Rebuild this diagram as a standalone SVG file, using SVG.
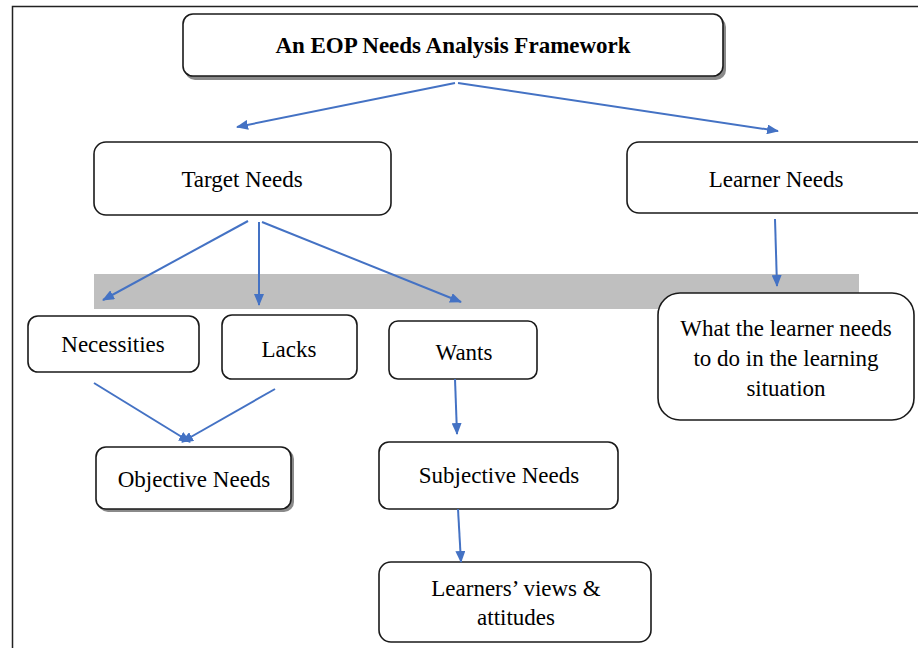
<svg xmlns="http://www.w3.org/2000/svg" width="918" height="648" viewBox="0 0 918 648">
<defs>
<marker id="ah" markerUnits="userSpaceOnUse" markerWidth="12" markerHeight="10" refX="11" refY="5" orient="auto">
<path d="M0,0 L12,5 L0,10 Z" fill="#4472c4"/>
</marker>
</defs>
<style>
.box{fill:#fff;stroke:#1a1a1a;stroke-width:1.6}
.sh{fill:#8a8a8a}
.t{font-family:'Liberation Serif','DejaVu Serif',serif;font-size:23px;fill:#000;text-anchor:middle}
.b{font-weight:bold;font-size:23px}
.c{stroke:#4472c4;stroke-width:2;fill:none;marker-end:url(#ah)}
</style>
<rect width="918" height="648" fill="#fff"/>
<path d="M12.5,648 V6.5 H918" fill="none" stroke="#222" stroke-width="1.5"/>
<rect x="94" y="274" width="765" height="35" fill="#bfbfbf"/>
<g id="title">
<rect class="sh" x="185" y="17" width="541" height="63" rx="10"/>
<rect class="box" x="183" y="14" width="540" height="62" rx="10"/>
<text class="t b" x="453" y="53">An EOP Needs Analysis Framework</text>
</g>
<g id="target">
<rect class="box" x="94" y="142" width="297" height="73" rx="12"/>
<text class="t" x="242" y="187">Target Needs</text>
</g>
<g id="learner">
<rect class="box" x="627" y="142" width="310" height="71" rx="12"/>
<text class="t" x="776" y="187">Learner Needs</text>
</g>
<g id="necessities">
<rect class="box" x="28" y="316" width="171" height="56" rx="10"/>
<text class="t" x="113" y="352">Necessities</text>
</g>
<g id="lacks">
<rect class="box" x="222" y="315" width="135" height="64" rx="10"/>
<text class="t" x="289" y="357">Lacks</text>
</g>
<g id="wants">
<rect class="box" x="389" y="321" width="148" height="58" rx="9"/>
<text class="t" x="464" y="360">Wants</text>
</g>
<g id="what">
<rect class="box" x="658" y="293" width="256" height="127" rx="22"/>
<text class="t" x="786" y="336">What the learner needs</text>
<text class="t" x="786" y="366">to do in the learning</text>
<text class="t" x="786" y="396">situation</text>
</g>
<g id="objective">
<rect class="sh" x="98" y="449" width="196" height="63" rx="10"/>
<rect class="box" x="96" y="447" width="195" height="62" rx="10"/>
<text class="t" x="194" y="487">Objective Needs</text>
</g>
<g id="subjective">
<rect class="box" x="379" y="442" width="239" height="67" rx="10"/>
<text class="t" x="499" y="483">Subjective Needs</text>
</g>
<g id="views">
<rect class="box" x="379" y="562" width="272" height="80" rx="12"/>
<text class="t" x="516" y="596">Learners’ views &amp;</text>
<text class="t" x="516" y="625">attitudes</text>
</g>
<g id="connectors">
<line class="c" x1="455" y1="83" x2="237" y2="127"/>
<line class="c" x1="458" y1="83" x2="778" y2="131"/>
<line class="c" x1="248" y1="221" x2="103" y2="300"/>
<line class="c" x1="259" y1="222" x2="259" y2="305"/>
<line class="c" x1="262" y1="222" x2="461" y2="302"/>
<line class="c" x1="775" y1="219" x2="777" y2="286"/>
<line class="c" x1="94" y1="383" x2="190" y2="442"/>
<line class="c" x1="275" y1="389" x2="182" y2="442"/>
<line class="c" x1="455" y1="379" x2="457" y2="434"/>
<line class="c" x1="458" y1="509" x2="461" y2="562"/>
</g>
</svg>
